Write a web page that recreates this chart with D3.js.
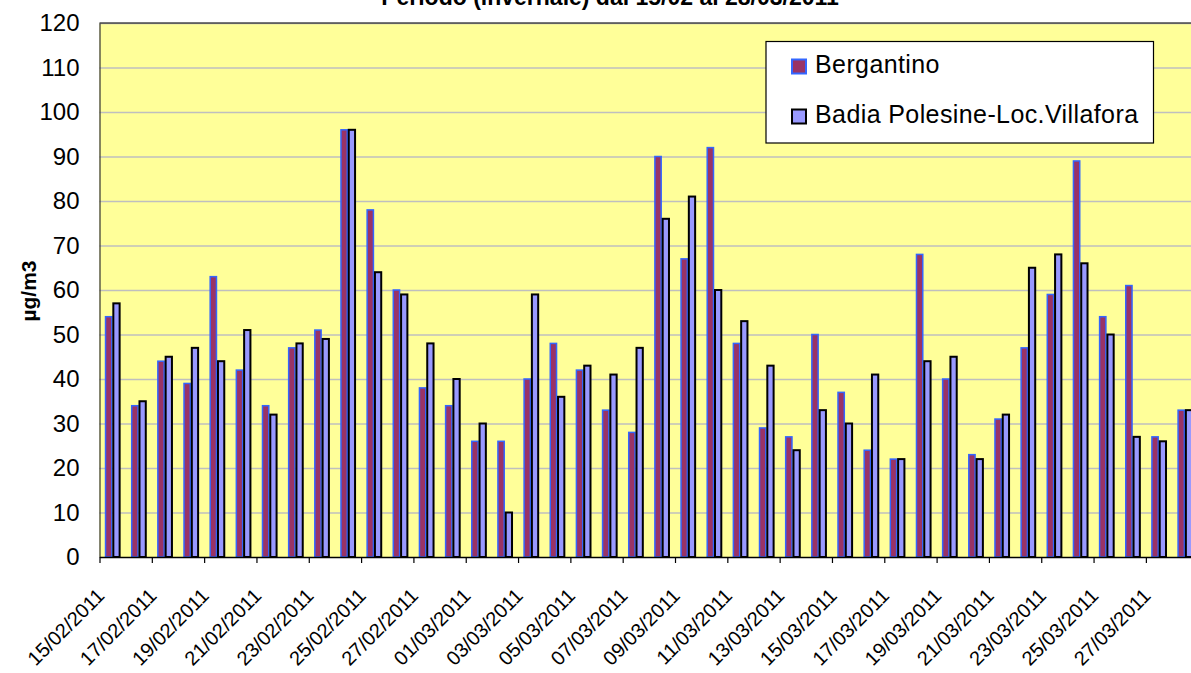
<!DOCTYPE html>
<html>
<head>
<meta charset="UTF-8">
<script src="https://d3js.org/d3.v7.min.js"></script>
<style>
  body { margin: 0; background: #fff; }
  svg text { font-family: "Liberation Sans", Arial, sans-serif; fill: #000; }
</style>
</head>
<body>
<svg width="1191" height="673"></svg>
<script>
// date di campionamento (una ogni giorno)
var giorni = ["15/02/2011","16/02/2011","17/02/2011","18/02/2011","19/02/2011","20/02/2011","21/02/2011",
  "22/02/2011","23/02/2011","24/02/2011","25/02/2011","26/02/2011","27/02/2011","28/02/2011",
  "01/03/2011","02/03/2011","03/03/2011","04/03/2011","05/03/2011","06/03/2011","07/03/2011",
  "08/03/2011","09/03/2011","10/03/2011","11/03/2011","12/03/2011","13/03/2011","14/03/2011",
  "15/03/2011","16/03/2011","17/03/2011","18/03/2011","19/03/2011","20/03/2011","21/03/2011",
  "22/03/2011","23/03/2011","24/03/2011","25/03/2011","26/03/2011","27/03/2011","28/03/2011"];

var bergantino = [54,34,44,39,63,42,34,47,51,96,78,60,38,34,
  26,26,40,48,42,33,28,90,67,92,48,29,27,50,37,24,22,68,40,23,31,47,59,89,54,61,27,33];

var badia = [57,35,45,47,44,51,32,48,49,96,64,59,48,40,
  30,10,59,36,43,41,47,76,81,60,53,43,24,33,30,41,22,44,45,22,32,65,68,66,50,27,26,33];

var serie = ["Bergantino", "Badia Polesine-Loc.Villafora"];
var yTicks = [0,10,20,30,40,50,60,70,80,90,100,110,120];

var svg = d3.select("svg");
var mLeft = 99.5, mTop = 23, mBottom = 557;
var plotW = 1098.7, plotH = mBottom - mTop;

// titolo (tagliato in alto come nell'originale)
svg.append("text")
  .attr("x", 610).attr("y", 5)
  .attr("text-anchor", "middle")
  .attr("font-size", "23px")
  .attr("font-weight", "bold")
  .text("Periodo (invernale) dal 15/02 al 28/03/2011");

var g = svg.append("g").attr("transform", "translate(" + mLeft + "," + mTop + ")");

var x0 = d3.scaleBand().domain(giorni).range([0, plotW]).paddingInner(0.404).paddingOuter(0.202);
var x1 = d3.scaleBand().domain(serie).range([0, x0.bandwidth()]);
var xIdx = d3.scaleLinear().domain([0, giorni.length]).range([0, plotW]);
var y = d3.scaleLinear().domain([0, 120]).range([plotH, 0]);

// sfondo
g.append("rect")
  .attr("width", plotW).attr("height", plotH)
  .attr("fill", "#FFFF99");

// griglia
g.append("g")
  .call(d3.axisLeft(y).tickValues(yTicks.slice(1)).tickSize(-plotW).tickFormat(""))
  .call(function(s) {
    s.select(".domain").remove();
    s.selectAll("line").attr("stroke", "#BFBFBF").attr("stroke-width", 1.3);
  });

// bordo superiore
g.append("line")
  .attr("x1", 0).attr("x2", plotW).attr("y1", 0).attr("y2", 0)
  .attr("stroke", "#000").attr("stroke-width", 1.2);

// barre
var gruppi = g.selectAll(".giorno")
  .data(giorni.map(function(d, i) { return { giorno: d, valori: [bergantino[i], badia[i]] }; }))
  .enter().append("g")
  .attr("class", "giorno")
  .attr("transform", function(d) { return "translate(" + x0(d.giorno) + ",0)"; });

gruppi.selectAll("rect")
  .data(function(d) { return d.valori.map(function(v, k) { return { s: serie[k], v: v, k: k }; }); })
  .enter().append("rect")
  .attr("x", function(d) { return x1(d.s) + 0.75; })
  .attr("y", function(d) { return y(d.v); })
  .attr("width", x1.bandwidth() - 1.5)
  .attr("height", function(d) { return plotH - y(d.v); })
  .attr("fill", function(d) { return d.k == 0 ? "#993366" : "#9999FF"; })
  .attr("stroke", function(d) { return d.k == 0 ? "#3366FF" : "#000"; })
  .attr("stroke-width", function(d) { return d.k == 0 ? 1.5 : 2; });

// asse y
g.append("g")
  .call(d3.axisLeft(y).tickValues(yTicks).tickSize(0).tickPadding(20))
  .call(function(s) {
    s.select(".domain").attr("stroke", "#333").attr("stroke-width", 1.2);
    s.selectAll("text").attr("font-size", "24px").attr("font-family", "Liberation Sans, Arial, sans-serif");
  });

// asse x: tacche ogni due giorni
g.append("g")
  .attr("transform", "translate(0," + plotH + ")")
  .call(d3.axisBottom(xIdx).tickValues(d3.range(0, giorni.length + 1, 2)).tickSize(6).tickFormat("").tickSizeOuter(0))
  .call(function(s) {
    s.select(".domain").attr("stroke", "#000").attr("stroke-width", 1.5);
    s.selectAll("line").attr("stroke", "#000").attr("stroke-width", 1.2);
  });

// etichette date ruotate
g.append("g").selectAll("text")
  .data(giorni.filter(function(d, i) { return i % 2 == 0; }))
  .enter().append("text")
  .attr("transform", function(d) {
    return "translate(" + (x0(d) + x0.bandwidth() / 2 - 7) + "," + (plotH + 40) + ") rotate(-45)";
  })
  .attr("text-anchor", "end")
  .attr("font-size", "20px")
  .text(function(d) { return d; });

// titolo asse y
svg.append("text")
  .attr("transform", "translate(36,291) rotate(-90)")
  .attr("text-anchor", "middle")
  .attr("font-size", "21px")
  .attr("font-weight", "bold")
  .text("µg/m3");

// legenda
var leg = svg.append("g").attr("transform", "translate(766,41.5)");
leg.append("rect")
  .attr("width", 387.5).attr("height", 101.5)
  .attr("fill", "#fff").attr("stroke", "#000").attr("stroke-width", 1.2);

var voci = leg.selectAll(".voce")
  .data(serie)
  .enter().append("g")
  .attr("class", "voce")
  .attr("transform", function(d, i) { return "translate(0," + (i * 50) + ")"; });

voci.append("rect")
  .attr("x", 26).attr("y", 18)
  .attr("width", 14).attr("height", 14)
  .attr("fill", function(d, i) { return i == 0 ? "#993366" : "#9999FF"; })
  .attr("stroke", function(d, i) { return i == 0 ? "#3366FF" : "#000"; })
  .attr("stroke-width", 2);

voci.append("text")
  .attr("x", 49).attr("y", 31.5)
  .attr("font-size", "25px")
  .attr("letter-spacing", "0.4px")
  .text(function(d) { return d; });
</script>
</body>
</html>
